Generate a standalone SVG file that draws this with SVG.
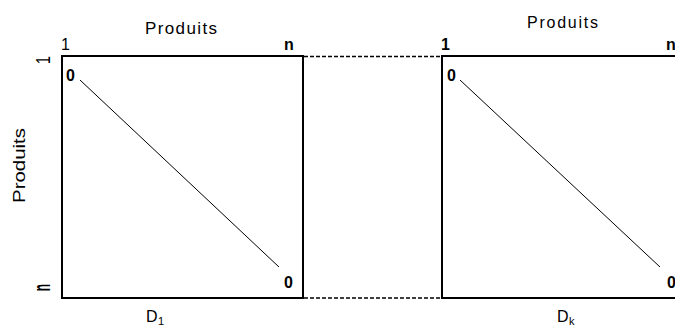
<svg xmlns="http://www.w3.org/2000/svg" width="675" height="327" viewBox="0 0 675 327">
<style>
text{font-family:"Liberation Sans",Arial,sans-serif;fill:#000}
.box{fill:none;stroke:#000;stroke-width:2}
.diag{stroke:#000;stroke-width:1;fill:none}
.dash{stroke:#000;stroke-width:1.3;stroke-dasharray:4 2;fill:none}
.lbl{font-size:17px}
.idx{font-size:16px}
.bold{font-weight:bold}
.zero{font-size:16px;font-weight:bold}
.dl{font-size:16px}
.sub{font-size:11px}
</style>
<rect width="675" height="327" fill="#fff"/>
<g id="axis-left">
<text font-size="17" transform="translate(25,165.5) rotate(-90)" text-anchor="middle" textLength="75" lengthAdjust="spacingAndGlyphs">Produits</text>
<text font-size="15" transform="translate(50,60) rotate(-90) scale(1,1.4)" text-anchor="middle">1</text>
<text font-size="15" font-weight="bold" transform="translate(50,287.5) rotate(-90) scale(0.8,1.55)" text-anchor="middle">n</text>
</g>
<g id="matrix-d1">
<rect class="box" x="62" y="56" width="241" height="242"/>
<line class="diag" x1="80" y1="80" x2="279" y2="267"/>
<text class="lbl" x="145" y="34" textLength="72" lengthAdjust="spacing">Produits</text>
<text class="idx" x="61" y="50">1</text>
<text class="idx bold" x="284" y="50">n</text>
<text class="zero" x="66" y="81">0</text>
<text class="zero" x="284" y="288">0</text>
<text class="dl" x="146" y="322">D</text>
<text class="sub" x="158" y="325">1</text>
</g>
<g id="matrix-dk">
<rect class="box" x="442" y="56" width="242" height="242"/>
<line class="diag" x1="460" y1="80" x2="660" y2="267"/>
<text font-size="16" x="527" y="28" textLength="71" lengthAdjust="spacing">Produits</text>
<text class="idx bold" x="441" y="50">1</text>
<text class="idx bold" x="666" y="50">n</text>
<text class="zero" x="447" y="81">0</text>
<text class="zero" x="667" y="288">0</text>
<text class="dl" x="557" y="322">D</text>
<text class="sub" x="569" y="325">k</text>
</g>
<g id="connectors">
<line class="dash" x1="304" y1="56.5" x2="441" y2="56.5"/>
<line class="dash" x1="304" y1="298" x2="441" y2="298"/>
</g>
</svg>
